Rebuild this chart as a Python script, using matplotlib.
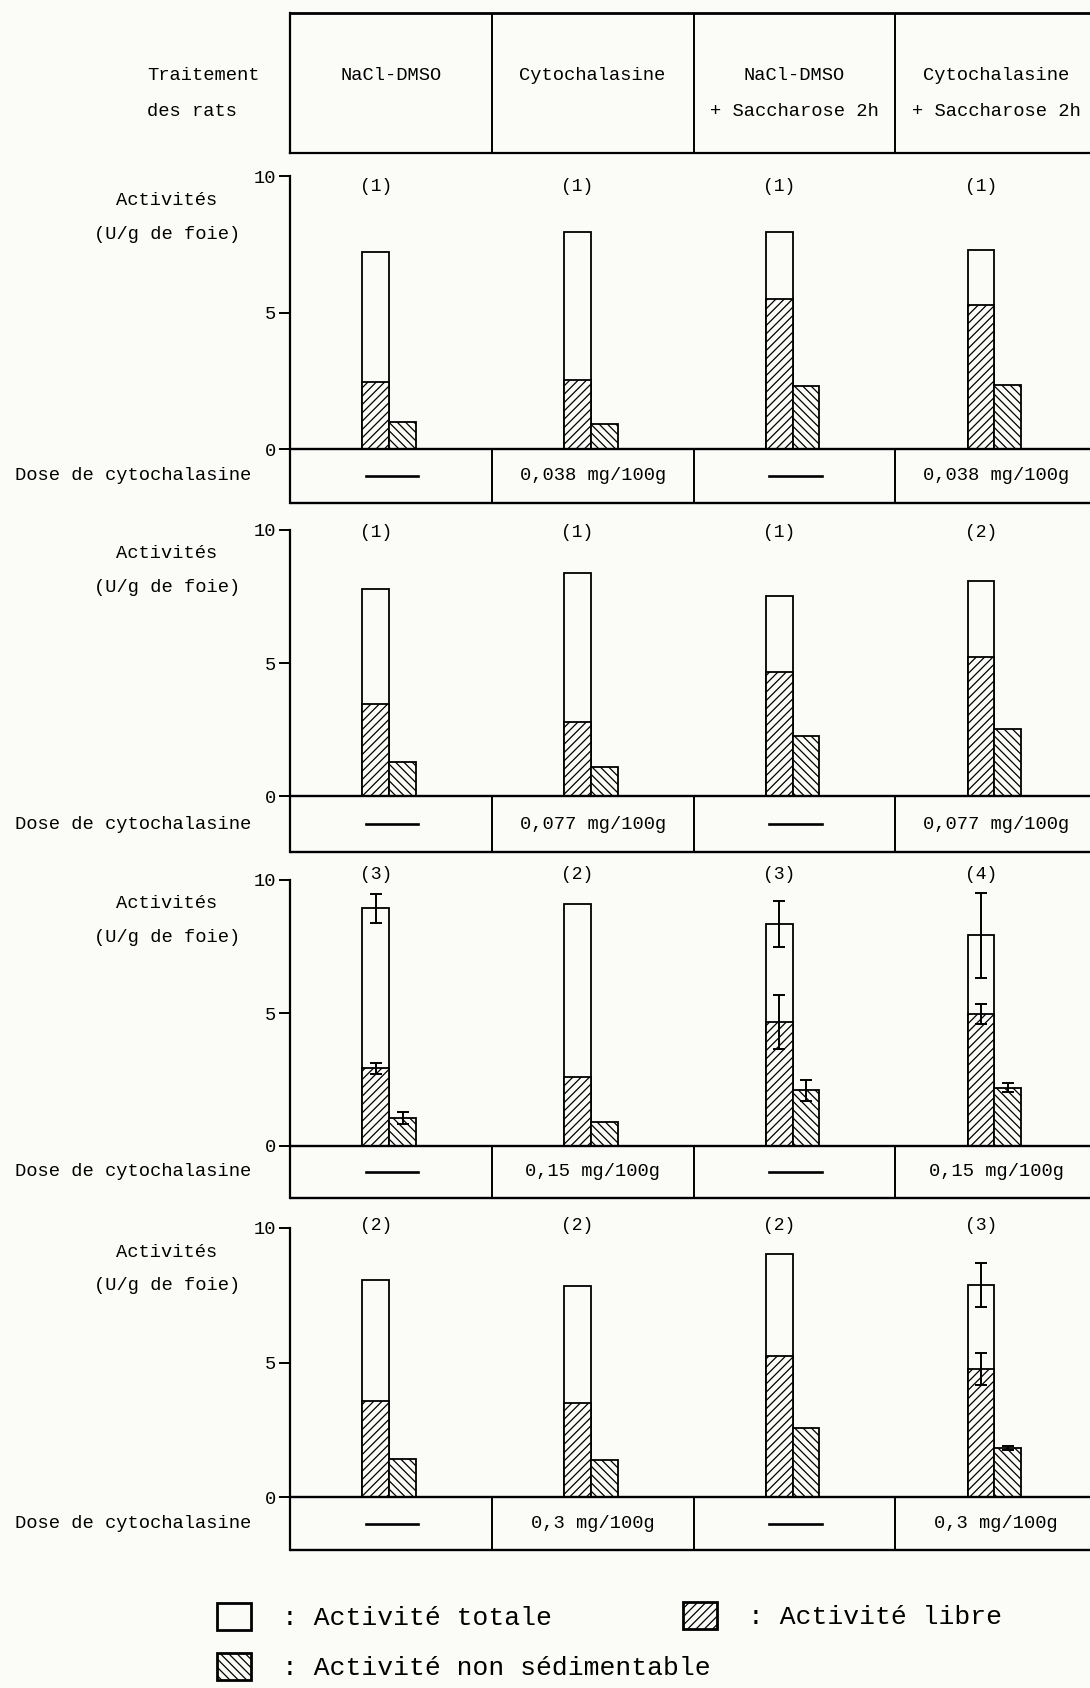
import matplotlib
matplotlib.use("Agg")
import matplotlib.pyplot as plt
from matplotlib import transforms
from matplotlib.patches import Patch
import numpy as np

plt.rcParams['font.family'] = ['Liberation Mono', 'DejaVu Sans Mono']
plt.rcParams['hatch.linewidth'] = 0.9

# --- data ---
header_l1 = ["NaCl-DMSO", "Cytochalasine", "NaCl-DMSO", "Cytochalasine"]
header_l2 = ["", "", "+ Saccharose 2h", "+ Saccharose 2h"]
doses = ["0,038", "0,077", "0,15", "0,3"]

totale = [[7.20, 7.96, 7.96, 7.29],
          [7.77, 8.37, 7.52, 8.10],
          [8.93, 9.11, 8.35, 7.93],
          [8.07, 7.85, 9.03, 7.89]]
libre = [[2.44, 2.54, 5.49, 5.27],
         [3.46, 2.77, 4.67, 5.24],
         [2.92, 2.58, 4.66, 4.95],
         [3.58, 3.48, 5.24, 4.76]]
non_sed = [[1.00, 0.91, 2.32, 2.34],
           [1.27, 1.10, 2.26, 2.52],
           [1.04, 0.89, 2.10, 2.19],
           [1.42, 1.39, 2.56, 1.81]]
n_rats = [[1, 1, 1, 1], [1, 1, 1, 2], [3, 2, 3, 4], [2, 2, 2, 3]]
err_totale = [[0, 0, 0, 0], [0, 0, 0, 0], [0.55, 0, 0.86, 1.6], [0, 0, 0, 0.82]]
err_libre = [[0, 0, 0, 0], [0, 0, 0, 0], [0.20, 0, 1.0, 0.38], [0, 0, 0, 0.60]]
err_non_sed = [[0, 0, 0, 0], [0, 0, 0, 0], [0.22, 0, 0.40, 0.16], [0, 0, 0, 0.08]]

# --- layout (pixels of the 1090x1688 page) ---
W, H = 1090, 1688
X0, X1 = 290, 1097
y10_px = [176, 530, 880, 1228]
y0_px = [449, 796, 1146, 1497]
ybot_px = [503, 852, 1198, 1550]
count_y = [9.6, 9.9, 10.2, 10.1]
bg = '#fbfbf8'
fs = 13.5

fig = plt.figure(figsize=(W / 100, H / 100), dpi=100, facecolor=bg)

# header table
hax = fig.add_axes([X0 / W, 1 - 153 / H, (X1 - X0) / W, (153 - 13) / H])
hax.set_xlim(0, 4)
hax.set_ylim(153, 13)
hax.set_xticks([])
hax.set_yticks([])
hax.patch.set_alpha(0)
for s in hax.spines.values():
    s.set_linewidth(1.6)
hax.spines['top'].set_linewidth(2)
hax.vlines([1, 2, 3], 13, 153, color='k', lw=1.4)
for j in range(4):
    hax.text(j + 0.5, 76, header_l1[j], ha='center', va='center', fontsize=fs)
    if header_l2[j]:
        hax.text(j + 0.5, 112, header_l2[j], ha='center', va='center', fontsize=fs)
hax.text(-0.709, 76, "Traitement", ha='left', va='center', fontsize=fs)
hax.text(-0.709, 112, "des rats", ha='left', va='center', fontsize=fs)

x = np.arange(4)
bw = 0.133
for i in range(4):
    ppu = (y0_px[i] - y10_px[i]) / 10
    ymin = -(ybot_px[i] - y0_px[i]) / ppu
    ytop = 10.9
    top_px = y0_px[i] - ytop * ppu
    ax = fig.add_axes([X0 / W, 1 - ybot_px[i] / H, (X1 - X0) / W, (ybot_px[i] - top_px) / H])
    ax.set_xlim(0, 4)
    ax.set_ylim(ymin, ytop)
    ax.patch.set_alpha(0)
    for s in ['top', 'right', 'bottom']:
        ax.spines[s].set_visible(False)
    ax.spines['left'].set_bounds(ymin, 10)
    ax.spines['left'].set_linewidth(1.6)
    ax.set_xticks([])
    ax.set_yticks([0, 5, 10])
    ax.set_yticklabels(["0", "5", "10"])
    ax.tick_params(axis='y', direction='out', length=8, width=1.4, labelsize=13.5, pad=2)

    ax.bar(x + 0.425, totale[i], width=bw, facecolor=bg, edgecolor='k', lw=1.3)
    ax.bar(x + 0.425, libre[i], width=bw, facecolor=bg, edgecolor='k', lw=1.3, hatch='////')
    ax.bar(x + 0.425 + bw, non_sed[i], width=bw, facecolor=bg, edgecolor='k', lw=1.3, hatch='\\\\\\\\')

    for xs, vals, errs in [(x + 0.425, totale[i], err_totale[i]),
                           (x + 0.425, libre[i], err_libre[i]),
                           (x + 0.425 + bw, non_sed[i], err_non_sed[i])]:
        m = np.array(errs) > 0
        if m.any():
            ax.errorbar(xs[m], np.array(vals)[m], yerr=np.array(errs)[m], fmt='none',
                        ecolor='k', elinewidth=1.4, capsize=4.5, capthick=1.4)

    for j in range(4):
        ax.text(j + 0.425, count_y[i], f"({n_rats[i][j]})", ha='center', va='center', fontsize=13)

    # dose row
    ax.hlines([0, ymin], 0, 4, color='k', lw=1.7, clip_on=False)
    ax.vlines([1, 2, 3], ymin, 0, color='k', lw=1.4)
    for j in range(4):
        if j % 2 == 1:
            ax.text(j + 0.5, ymin / 2, f"{doses[i]} mg/100g", ha='center', va='center', fontsize=fs)
        else:
            ax.plot([j + 0.375, j + 0.635], [ymin / 2, ymin / 2], color='k', lw=1.9)

    trans = transforms.blended_transform_factory(fig.transFigure, ax.transData)
    ax.text(167 / W, 9.1, "Activités", transform=trans, ha='center', va='center', fontsize=fs)
    ax.text(167 / W, 7.85, "(U/g de foie)", transform=trans, ha='center', va='center', fontsize=fs)
    ax.text(133 / W, ymin / 2, "Dose de cytochalasine", transform=trans,
            ha='center', va='center', fontsize=fs)

# legend
lfs = 19
h_tot = Patch(facecolor=bg, edgecolor='k', lw=2, label=": Activité totale")
h_non = Patch(facecolor=bg, edgecolor='k', lw=2, hatch='\\\\\\\\', label=": Activité non sédimentable")
h_lib = Patch(facecolor=bg, edgecolor='k', lw=2, hatch='////', label=": Activité libre")
common = dict(frameon=False, fontsize=lfs, handlelength=1.3, handleheight=1.2,
              handletextpad=1.15, borderpad=0, borderaxespad=0, labelspacing=0.85, loc='upper left')
fig.legend(handles=[h_tot, h_non], bbox_to_anchor=(217 / W, 1 - 1603 / H), **common)
fig.legend(handles=[h_lib], bbox_to_anchor=(683 / W, 1 - 1602 / H), **common)

fig.savefig("out.png", dpi=100, facecolor=bg)
